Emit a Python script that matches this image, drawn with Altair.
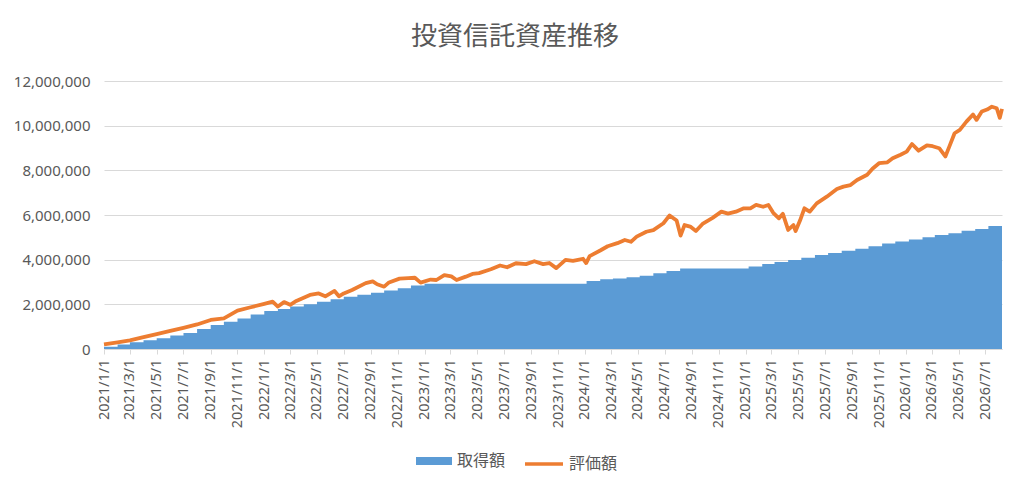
import altair as alt
import pandas as pd

# 取得額 (monthly step values, yen)
cost_dates = [
    "2021-01-01", "2021-02-01", "2021-03-01", "2021-04-01", "2021-05-01", "2021-06-01",
    "2021-07-01", "2021-08-01", "2021-09-01", "2021-10-01", "2021-11-01", "2021-12-01",
    "2022-01-01", "2022-02-01", "2022-03-01", "2022-04-01", "2022-05-01", "2022-06-01",
    "2022-07-01", "2022-08-01", "2022-09-01", "2022-10-01", "2022-11-01", "2022-12-01",
    "2023-01-01", "2023-02-01", "2023-03-01", "2023-04-01", "2023-05-01", "2023-06-01",
    "2023-07-01", "2023-08-01", "2023-09-01", "2023-10-01", "2023-11-01", "2023-12-01",
    "2024-01-05", "2024-02-05", "2024-03-05", "2024-04-05", "2024-05-05", "2024-06-05",
    "2024-07-05", "2024-08-05", "2024-09-05", "2024-10-05", "2024-11-05", "2024-12-05",
    "2025-01-08", "2025-02-08", "2025-03-08", "2025-04-08", "2025-05-08", "2025-06-08",
    "2025-07-08", "2025-08-08", "2025-09-08", "2025-10-08", "2025-11-08", "2025-12-08",
    "2026-01-08", "2026-02-08", "2026-03-08", "2026-04-08", "2026-05-08", "2026-06-08",
    "2026-07-08", "2026-08-08",
]
cost_values = [
    100000, 200000, 300000, 390000, 480000, 600000,
    720000, 900000, 1070000, 1220000, 1370000, 1550000,
    1700000, 1790000, 1900000, 2000000, 2120000, 2230000,
    2340000, 2430000, 2520000, 2620000, 2720000, 2840000,
    2920000, 2920000, 2920000, 2920000, 2920000, 2920000,
    2920000, 2920000, 2920000, 2920000, 2920000, 2920000,
    3050000, 3120000, 3160000, 3210000, 3280000, 3390000,
    3490000, 3610000, 3610000, 3610000, 3610000, 3610000,
    3690000, 3810000, 3900000, 3990000, 4090000, 4210000,
    4300000, 4400000, 4490000, 4600000, 4720000, 4810000,
    4900000, 5000000, 5110000, 5180000, 5300000, 5370000,
    5510000, 5510000,
]

# 評価額 (valuation, yen)
value_dates = [
    "2021-01-01", "2021-02-01", "2021-03-01", "2021-04-01", "2021-05-01", "2021-06-01",
    "2021-07-01", "2021-08-01", "2021-09-01", "2021-10-01", "2021-11-01", "2021-12-01",
    "2022-01-01", "2022-01-20", "2022-02-01", "2022-02-15", "2022-03-01", "2022-03-15",
    "2022-04-15", "2022-05-05", "2022-05-20", "2022-06-10", "2022-06-20", "2022-07-01",
    "2022-07-20", "2022-08-20", "2022-09-05", "2022-09-15", "2022-10-01", "2022-10-12",
    "2022-11-05", "2022-11-25", "2022-12-10", "2022-12-23",
    "2023-01-15", "2023-01-28", "2023-02-15", "2023-03-03", "2023-03-15", "2023-04-05",
    "2023-04-20", "2023-05-05", "2023-06-01", "2023-06-22", "2023-07-08", "2023-07-28",
    "2023-08-20", "2023-09-08", "2023-09-28", "2023-10-12", "2023-10-28", "2023-11-18",
    "2023-12-05", "2023-12-28",
    "2024-01-04", "2024-01-12", "2024-02-05", "2024-02-22", "2024-03-15", "2024-04-01",
    "2024-04-15", "2024-04-28", "2024-05-20", "2024-06-05", "2024-06-28", "2024-07-12",
    "2024-07-28", "2024-08-06", "2024-08-15", "2024-08-28", "2024-09-10", "2024-09-25",
    "2024-10-18", "2024-11-07", "2024-11-22", "2024-12-10", "2024-12-28",
    "2025-01-12", "2025-01-25", "2025-02-10", "2025-02-22", "2025-03-05", "2025-03-18",
    "2025-03-27", "2025-04-08", "2025-04-20", "2025-04-25", "2025-05-05", "2025-05-15",
    "2025-05-27", "2025-06-12", "2025-07-05", "2025-07-28", "2025-08-12", "2025-08-28",
    "2025-09-12", "2025-10-05", "2025-10-17", "2025-11-01", "2025-11-20", "2025-12-02",
    "2025-12-20",
    "2026-01-03", "2026-01-15", "2026-01-30", "2026-02-18", "2026-03-03", "2026-03-18",
    "2026-04-01", "2026-04-10", "2026-04-22", "2026-05-04", "2026-05-19", "2026-06-03",
    "2026-06-11", "2026-06-23", "2026-07-05", "2026-07-16", "2026-07-27", "2026-08-03",
    "2026-08-08",
]
value_values = [
    210000, 300000, 390000, 530000, 670000, 810000,
    950000, 1100000, 1300000, 1370000, 1720000, 1870000,
    2020000, 2120000, 1900000, 2100000, 1980000, 2150000,
    2420000, 2490000, 2360000, 2600000, 2360000, 2490000,
    2640000, 2950000, 3030000, 2900000, 2790000, 2980000,
    3150000, 3170000, 3190000, 2970000,
    3110000, 3090000, 3310000, 3250000, 3090000, 3240000,
    3360000, 3400000, 3570000, 3740000, 3660000, 3840000,
    3800000, 3930000, 3800000, 3850000, 3620000, 3990000,
    3950000, 4040000,
    3850000, 4160000, 4410000, 4600000, 4740000, 4880000,
    4800000, 5030000, 5250000, 5320000, 5630000, 5980000,
    5750000, 5080000, 5550000, 5480000, 5280000, 5600000,
    5870000, 6150000, 6060000, 6150000, 6300000,
    6300000, 6450000, 6370000, 6450000, 6100000, 5850000,
    6050000, 5330000, 5550000, 5280000, 5750000, 6300000,
    6150000, 6520000, 6820000, 7160000, 7270000, 7340000,
    7570000, 7800000, 8070000, 8320000, 8360000, 8540000,
    8700000,
    8840000, 9180000, 8880000, 9120000, 9080000, 8990000,
    8620000, 9060000, 9660000, 9810000, 10180000, 10500000,
    10260000, 10630000, 10720000, 10850000, 10780000, 10350000,
    10750000,
]

tick_labels = [
    "2021-01-01", "2021-03-01", "2021-05-01", "2021-07-01", "2021-09-01", "2021-11-01",
    "2022-01-01", "2022-03-01", "2022-05-01", "2022-07-01", "2022-09-01", "2022-11-01",
    "2023-01-01", "2023-03-01", "2023-05-01", "2023-07-01", "2023-09-01", "2023-11-01",
    "2024-01-01", "2024-03-01", "2024-05-01", "2024-07-01", "2024-09-01", "2024-11-01",
    "2025-01-01", "2025-03-01", "2025-05-01", "2025-07-01", "2025-09-01", "2025-11-01",
    "2026-01-01", "2026-03-01", "2026-05-01", "2026-07-01",
]
y_ticks = [0, 2000000, 4000000, 6000000, 8000000, 10000000, 12000000]


def dt(s):
    y, m, d = (int(p) for p in s.split("-"))
    return alt.DateTime(year=y, month=m, date=d, utc=True)


cost_df = pd.DataFrame({"date": cost_dates, "value": cost_values, "series": "取得額"})
value_df = pd.DataFrame({"date": value_dates, "value": value_values, "series": "評価額"})

GRAY = "#595959"
LINE = "#d9d9d9"
NUM_FONT = "Noto Sans"
JP_FONT = "Noto Sans CJK JP"

x_axis = alt.Axis(
    title=None,
    values=[dt(s) for s in tick_labels],
    format="%Y/%-m/%-d",
    labelAngle=-90,
    labelFont=NUM_FONT,
    labelFontSize=14.5,
    labelColor=GRAY,
    labelPadding=5,
    labelOverlap=False,
    labelFlush=False,
    labelBound=False,
    tickSize=5,
    tickColor=LINE,
    domainColor=LINE,
    grid=False,
)
x_scale = alt.Scale(type="utc", domain=[dt("2021-01-01"), dt("2026-08-08")])

y_axis = alt.Axis(
    title=None,
    values=y_ticks,
    format=",d",
    labelFont=NUM_FONT,
    labelFontSize=15,
    labelColor=GRAY,
    labelPadding=14,
    ticks=False,
    domain=False,
    grid=True,
    gridColor=LINE,
    gridWidth=1.2,
)
y_scale = alt.Scale(domain=[0, 12000000], nice=False)

area = alt.Chart(cost_df).mark_area(interpolate="step-after").encode(
    x=alt.X("date:T", scale=x_scale, axis=x_axis),
    y=alt.Y("value:Q", scale=y_scale, axis=y_axis),
    fill=alt.Fill(
        "series:N",
        scale=alt.Scale(domain=["取得額"], range=["#5B9BD5"]),
        legend=alt.Legend(
            title=None,
            orient="none",
            legendX=312,
            legendY=362,
            symbolType="M-1,-0.22H1V0.22H-1Z",
            symbolSize=1296,
            symbolStrokeWidth=0,
            labelFont=JP_FONT,
            labelFontSize=16,
            labelColor=GRAY,
            labelOffset=5,
        ),
    ),
)

line = alt.Chart(value_df).mark_line(strokeWidth=3.8, strokeJoin="round").encode(
    x=alt.X("date:T", scale=x_scale, axis=x_axis),
    y=alt.Y("value:Q", scale=y_scale, axis=y_axis),
    stroke=alt.Stroke(
        "series:N",
        scale=alt.Scale(domain=["評価額"], range=["#ED7D31"]),
        legend=alt.Legend(
            title=None,
            orient="none",
            legendX=419,
            legendY=362,
            symbolType="stroke",
            symbolSize=1444,
            symbolStrokeWidth=3.3,
            labelFont=JP_FONT,
            labelFontSize=16,
            labelColor=GRAY,
            labelOffset=4,
        ),
    ),
)

chart = (
    alt.layer(area, line)
    .properties(
        width=898,
        height=268,
        autosize=alt.AutoSizeParams(type="none"),
        padding={"left": 96, "top": 73, "right": 10, "bottom": 125},
        title=alt.TitleParams(
            text="投資信託資産推移",
            font=JP_FONT,
            fontSize=26,
            fontWeight="normal",
            color=GRAY,
            anchor="middle",
            dx=-38,
            offset=24,
        ),
        background="white",
    )
    .configure_view(stroke=None)
    .configure_axis(labelOverlap=False)
)

chart.save("out.html", embed_options={"renderer": "svg", "actions": False})
